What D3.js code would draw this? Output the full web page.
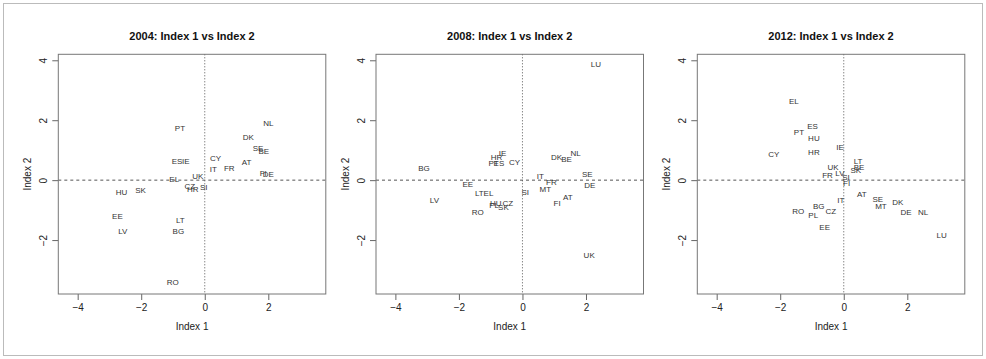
<!DOCTYPE html>
<html>
<head>
<meta charset="utf-8">
<script src="https://cdn.jsdelivr.net/npm/d3@7"></script>
<style>
  body { margin: 0; background: #fff; }
  svg { font-family: 'Liberation Sans', Arial, sans-serif; }
</style>
</head>
<body>
<div id="chart"></div>
<script>
// data
const years = ['2004', '2008', '2012'];

const codes2004 = ['PT','ES','IE','EL','UK','CY','IT','FR','AT','DK','NL','SE','BE','FI','DE','HU','SK','CZ','HR','SI','EE','LV','LT','BG','RO'];
const idx1_2004 = [-0.78,-0.87,-0.60,-0.96,-0.22,0.34,0.27,0.77,1.32,1.37,2.00,1.68,1.86,1.84,2.00,-2.62,-2.02,-0.47,-0.38,-0.03,-2.75,-2.58,-0.77,-0.83,-1.01];
const idx2_2004 = [1.72,0.63,0.63,0.03,0.13,0.73,0.36,0.39,0.61,1.44,1.91,1.06,0.97,0.24,0.19,-0.39,-0.33,-0.20,-0.29,-0.22,-1.19,-1.72,-1.34,-1.69,-3.42];

const codes2008 = ['BG','HR','IE','PT','ES','CY','EE','LU','DK','BE','NL','IT','FR','SE','DE','LV','LT','EL','HU','CZ','PL','SK','RO','SI','MT','AT','FI','UK'];
const idx1_2008 = [-3.10,-0.82,-0.63,-0.91,-0.74,-0.25,-1.72,2.31,1.07,1.39,1.67,0.56,0.91,2.04,2.12,-2.77,-1.36,-1.07,-0.84,-0.46,-0.89,-0.60,-1.41,0.09,0.72,1.43,1.09,2.10];
const idx2_2008 = [0.41,0.78,0.89,0.56,0.58,0.60,-0.12,3.86,0.78,0.69,0.89,0.13,-0.06,0.19,-0.17,-0.66,-0.44,-0.43,-0.78,-0.78,-0.84,-0.91,-1.08,-0.39,-0.29,-0.57,-0.77,-2.51];

const codes2012 = ['EL','ES','PT','HU','CY','HR','IE','UK','FR','LV','SI','FI','LT','BE','SK','IT','BG','RO','PL','CZ','EE','AT','SE','MT','DK','DE','NL','LU'];
const idx1_2012 = [-1.57,-0.98,-1.41,-0.94,-2.20,-0.94,-0.12,-0.34,-0.51,-0.12,0.07,0.09,0.45,0.48,0.38,-0.09,-0.79,-1.43,-0.96,-0.41,-0.60,0.57,1.07,1.17,1.70,1.96,2.50,3.08];
const idx2_2012 = [2.62,1.81,1.59,1.41,0.87,0.92,1.10,0.44,0.18,0.24,0.11,-0.09,0.62,0.42,0.33,-0.68,-0.87,-1.04,-1.16,-1.03,-1.57,-0.47,-0.63,-0.86,-0.73,-1.07,-1.06,-1.84];

const xTicks = [-4, -2, 0, 2];
const yTicks = [-2, 0, 2, 4];

const panels = [
  { year: years[0], codes: codes2004, x: idx1_2004, y: idx2_2004 },
  { year: years[1], codes: codes2008, x: idx1_2008, y: idx2_2008 },
  { year: years[2], codes: codes2012, x: idx1_2012, y: idx2_2012 }
];

const width = 986, height = 359;
const svg = d3.select('#chart').append('svg')
  .attr('width', width)
  .attr('height', height);

// outer frame
svg.append('rect')
  .attr('x', 3.5).attr('y', 3.5)
  .attr('width', 979).attr('height', 352)
  .attr('fill', 'none')
  .attr('stroke', '#bbb');

const lefts = [58.3, 376, 697.3];
const pw = 267.5, plotTop = 54.3, plotBottom = 294;

panels.forEach((p, i) => {
  const x0 = lefts[i];
  const x = d3.scaleLinear().domain([-4.61, 3.81]).range([x0, x0 + pw]);
  const y = d3.scaleLinear().domain([-3.8, 4.2]).range([plotBottom, plotTop]);
  const g = svg.append('g');

  // reference lines
  g.append('line')
    .attr('x1', x0).attr('x2', x0 + pw)
    .attr('y1', y(0)).attr('y2', y(0))
    .attr('stroke', '#555').attr('stroke-dasharray', '3,3');
  g.append('line')
    .attr('x1', x(0)).attr('x2', x(0))
    .attr('y1', plotTop).attr('y2', plotBottom)
    .attr('stroke', '#555').attr('stroke-dasharray', '1,2');

  // axes
  const xa = g.append('g').attr('transform', `translate(0,${plotBottom})`)
    .call(d3.axisBottom(x).tickValues(xTicks).tickSize(6).tickPadding(4)
      .tickFormat(d => d < 0 ? '\u2212' + Math.abs(d) : d));
  xa.select('.domain').remove();
  xa.selectAll('text').attr('font-size', 10).attr('fill', '#222').attr('font-family', null);
  xa.selectAll('line').attr('stroke', '#666');

  const ya = g.append('g').attr('transform', `translate(${x0},0)`)
    .call(d3.axisLeft(y).tickValues(yTicks).tickSize(6)
      .tickFormat(d => d < 0 ? '\u2212' + Math.abs(d) : d));
  ya.select('.domain').remove();
  ya.selectAll('line').attr('stroke', '#666');
  ya.selectAll('text')
    .attr('font-size', 10).attr('fill', '#222').attr('font-family', null)
    .attr('text-anchor', 'middle')
    .attr('x', null).attr('dy', '0.35em')
    .attr('transform', 'translate(-15,0) rotate(-90)');

  // box
  g.append('rect')
    .attr('x', x0).attr('y', plotTop)
    .attr('width', pw).attr('height', plotBottom - plotTop)
    .attr('fill', 'none').attr('stroke', '#777');

  // country labels
  g.selectAll('text.pt')
    .data(p.codes)
    .join('text')
    .attr('class', 'pt')
    .attr('x', (d, j) => x(p.x[j]))
    .attr('y', (d, j) => y(p.y[j]))
    .attr('dy', '0.35em')
    .attr('text-anchor', 'middle')
    .attr('font-size', 8)
    .attr('fill', '#333')
    .text(d => d);

  // titles
  g.append('text')
    .attr('x', x0 + pw / 2).attr('y', 36).attr('dy', '0.35em')
    .attr('text-anchor', 'middle')
    .attr('font-size', 11).attr('font-weight', 'bold').attr('fill', '#111')
    .text(`${p.year}: Index 1 vs Index 2`);
  g.append('text')
    .attr('x', x0 + pw / 2).attr('y', 326.7).attr('dy', '0.35em')
    .attr('text-anchor', 'middle')
    .attr('font-size', 10).attr('fill', '#222')
    .text('Index 1');
  g.append('text')
    .attr('transform', `translate(${x0 - 31},${(plotTop + plotBottom) / 2}) rotate(-90)`)
    .attr('dy', '0.35em')
    .attr('text-anchor', 'middle')
    .attr('font-size', 10).attr('fill', '#222')
    .text('Index 2');
});
</script>
</body>
</html>
